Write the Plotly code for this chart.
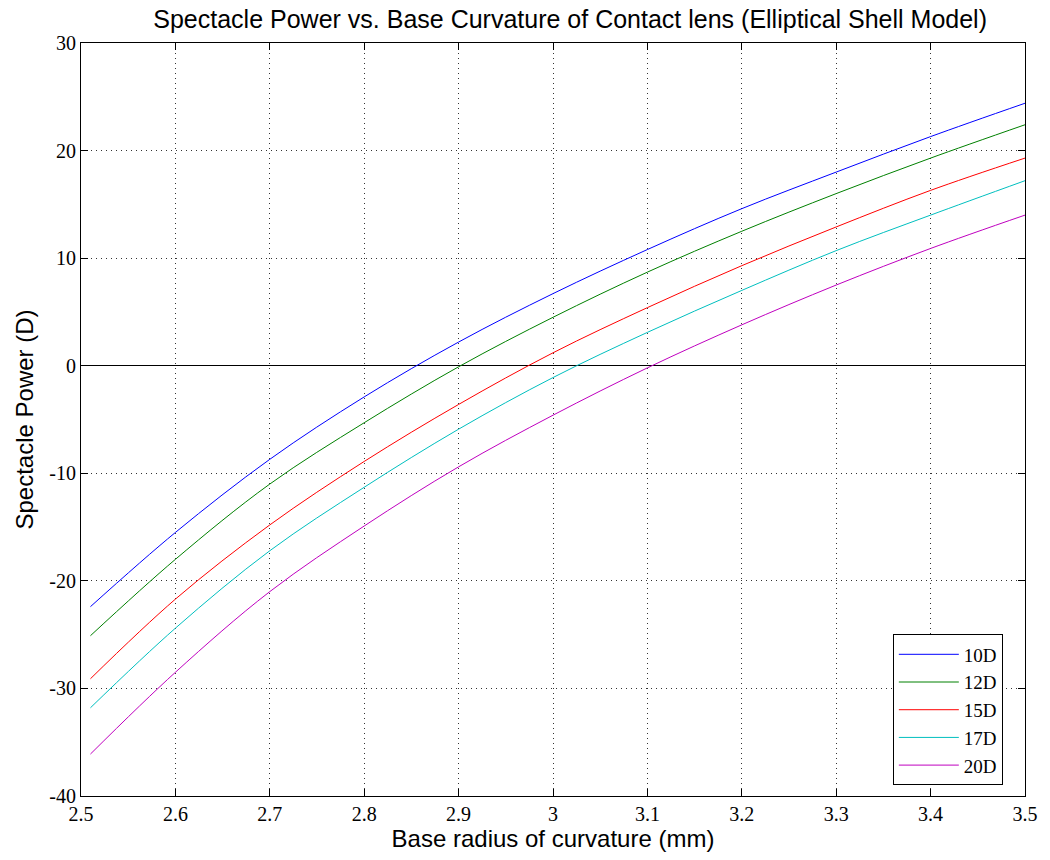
import plotly.graph_objects as go

radius = [2.51, 2.6, 2.7, 2.8, 2.9, 3.0, 3.1, 3.2, 3.3, 3.4, 3.5]
p10 = [-22.4, -15.5, -8.7, -2.9, 2.2, 6.7, 10.8, 14.6, 18.0, 21.3, 24.4]
p12 = [-25.1, -18.0, -11.0, -5.3, -0.1, 4.5, 8.7, 12.5, 16.0, 19.3, 22.4]
p15 = [-29.1, -21.7, -14.8, -8.9, -3.6, 1.2, 5.4, 9.3, 12.9, 16.3, 19.3]
p17 = [-31.8, -24.4, -17.2, -11.3, -5.9, -1.1, 3.1, 7.0, 10.7, 14.0, 17.2]
p20 = [-36.1, -28.5, -21.0, -14.9, -9.4, -4.6, -0.2, 3.8, 7.5, 10.9, 14.0]

x_ticks = [2.5, 2.6, 2.7, 2.8, 2.9, 3.0, 3.1, 3.2, 3.3, 3.4, 3.5]
x_labels = ["2.5", "2.6", "2.7", "2.8", "2.9", "3", "3.1", "3.2", "3.3", "3.4", "3.5"]
y_ticks = [-40, -30, -20, -10, 0, 10, 20, 30]
y_labels = ["-40", "-30", "-20", "-10", "0", "10", "20", "30"]

names = ["10D", "12D", "15D", "17D", "20D"]
series = [p10, p12, p15, p17, p20]
colors = ["#0000ff", "#008000", "#ff0000", "#00bfbf", "#bf00bf"]

fig = go.Figure()
for n, s, c in zip(names, series, colors):
    fig.add_trace(go.Scatter(x=radius, y=s, mode="lines", name=n,
                             line=dict(color=c, width=1, shape="spline")))

axis_common = dict(
    showline=True, linecolor="black", linewidth=1, mirror="ticks",
    ticks="inside", ticklen=7, tickcolor="black",
    showgrid=True, gridcolor="#333", griddash="1px,4px", gridwidth=1,
    tickfont=dict(family="Liberation Serif, Times New Roman, serif", size=20, color="black"),
)

fig.update_layout(
    width=1050, height=860,
    margin=dict(l=81, r=17, t=43, b=63),
    paper_bgcolor="white", plot_bgcolor="white",
    title=dict(text="Spectacle Power vs. Base Curvature of Contact lens (Elliptical Shell Model)",
               x=0.543, xanchor="center", y=0.978, yanchor="middle",
               font=dict(family="Liberation Sans, Arial, sans-serif", size=25, color="black")),
    xaxis=dict(range=[2.5, 3.5], tickvals=x_ticks, ticktext=x_labels,
               zeroline=False,
               title=dict(text="Base radius of curvature (mm)", standoff=6,
                          font=dict(family="Liberation Sans, Arial, sans-serif", size=24, color="black")),
               **axis_common),
    yaxis=dict(range=[-40, 30], tickvals=y_ticks, ticktext=y_labels,
               zeroline=True, zerolinecolor="black", zerolinewidth=1,
               title=dict(text="Spectacle Power (D)", standoff=8,
                          font=dict(family="Liberation Sans, Arial, sans-serif", size=24, color="black")),
               **axis_common),
    legend=dict(x=0.86, y=0.014, xanchor="left", yanchor="bottom",
                bgcolor="white", bordercolor="black", borderwidth=1,
                font=dict(family="Liberation Serif, Times New Roman, serif", size=19, color="black"),
                itemwidth=60, tracegroupgap=0),
    showlegend=True,
)

fig.write_html("out.html")
